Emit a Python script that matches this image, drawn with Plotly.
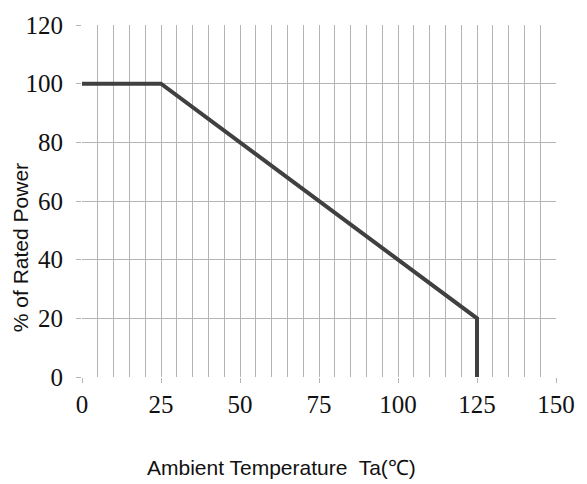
import plotly.graph_objects as go

temp_c = [0, 25, 125, 125]
rated_power_pct = [100, 100, 20, 0]
x_ticks = [0, 25, 50, 75, 100, 125, 150]
y_ticks = [0, 20, 40, 60, 80, 100, 120]

grid_col = "#b4b4b4"
serif = "Liberation Serif"
tick_font = dict(family=serif, size=25, color="#111")
fig = go.Figure()
fig.add_trace(go.Scatter(x=temp_c, y=rated_power_pct, mode="lines",
                         line=dict(color="#404040", width=4), showlegend=False,
                         hoverinfo="skip"))

fig.update_layout(
    width=587, height=484,
    margin=dict(l=82, r=27, t=19, b=107),
    plot_bgcolor="white", paper_bgcolor="white",
    font=dict(family=serif, color="#111"),
    annotations=[
        dict(text="Ambient Temperature  Ta(℃)", xref="paper", yref="paper",
             x=0.42, y=0, yshift=-90, xanchor="center", yanchor="middle",
             showarrow=False, font=dict(family="Liberation Sans", size=21, color="#111")),
        dict(text="% of Rated Power", xref="paper", yref="paper",
             x=0, xshift=-62, y=0.366, xanchor="center", yanchor="middle", textangle=-90,
             showarrow=False, font=dict(family="Liberation Sans", size=21, color="#111")),
    ],
)
fig.update_xaxes(range=[0, 150], tickvals=x_ticks, ticks="outside", ticklen=5,
                 tickcolor=grid_col, showgrid=True, gridcolor=grid_col, gridwidth=1.3,
                 minor=dict(dtick=5, showgrid=True, gridcolor=grid_col, gridwidth=1.3),
                 showline=False, zeroline=False, tickfont=tick_font,
                 ticklabelstandoff=0, fixedrange=True)
fig.update_yaxes(range=[0, 120], tickvals=y_ticks, ticks="outside", ticklen=5,
                 tickcolor=grid_col, showgrid=True, gridcolor=grid_col, gridwidth=1.3,
                 showline=False, zeroline=False, tickfont=tick_font,
                 ticklabelstandoff=8, fixedrange=True)
fig.write_html("out.html")
